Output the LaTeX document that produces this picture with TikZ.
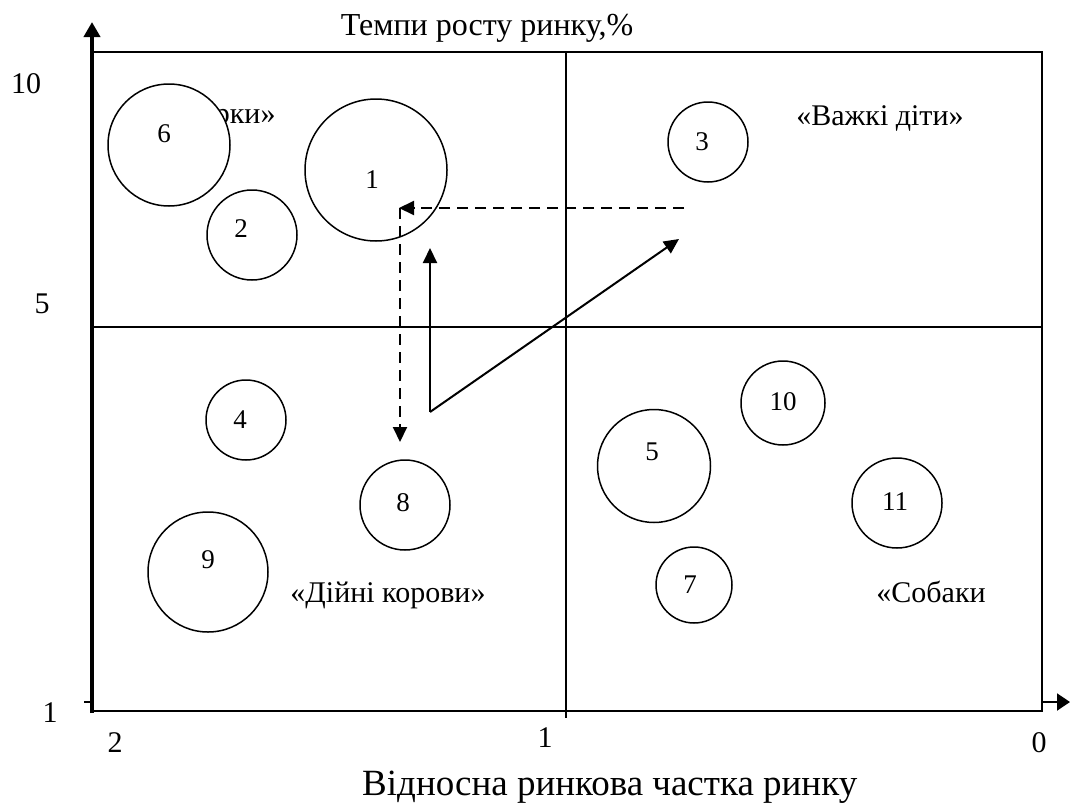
\documentclass[tikz,border=0pt]{standalone}
\usepackage{fontspec}
\setmainfont{Liberation Serif}
\usetikzlibrary{arrows.meta}
\begin{document}
\begin{tikzpicture}[x=1pt,y=-1pt,
  bub/.style={draw, circle, line width=1.5pt, inner sep=0pt, fill=white},
  num/.style={font=\fontsize{27}{32}\selectfont, inner sep=0pt, anchor=center},
  axnum/.style={font=\fontsize{30}{36}\selectfont, inner sep=0pt, anchor=base},
  qlab/.style={font=\fontsize{30}{36}\selectfont, inner sep=0pt, anchor=base},
  frame/.style={line width=2pt},
  midline/.style={line width=1.5pt},
  tip/.style={-{Triangle[length=15pt,width=14pt]}},
  dashline/.style={line width=2pt, dash pattern=on 11pt off 7pt, tip},
  solidarrow/.style={line width=2pt, tip}
]
\fill[white] (0,0) rectangle (1070,803);
\useasboundingbox (0,0) rectangle (1070,803);

% coordinates
\coordinate (ybot) at (92,713);
\coordinate (ytop) at (92,22);
\coordinate (tl) at (92,52);
\coordinate (tr) at (1042,52);
\coordinate (br) at (1042,711);
\coordinate (bl) at (92,711);
\coordinate (tick1) at (84,702);
\coordinate (tick2) at (92,702);
\coordinate (xs) at (1042,702);
\coordinate (xe) at (1070,702);
\coordinate (vt) at (566,52);
\coordinate (vb) at (566,718);
\coordinate (hl) at (92,327);
\coordinate (hr) at (1042,327);

% quadrant label partly hidden
\node[qlab] (qstars) at (226,123) {«Зірки»};

% frame and axes
\draw[frame] (tl) -- (tr) -- (br) -- (bl);
\draw[midline] (vt) -- (vb);
\draw[midline] (hl) -- (hr);
\draw[line width=4.5pt, -{Triangle[length=15pt,width=16pt]}] (ybot) -- (ytop);
\draw[line width=2.5pt] (tick1) -- (tick2);
\draw[line width=2pt, -{Triangle[length=13pt,width=17pt]}] (xs) -- (xe);

% axis labels
\node[font=\fontsize{32}{38}\selectfont, inner sep=0pt, anchor=base] (ytitle) at (487,35) {Темпи росту ринку,\%};
\node[font=\fontsize{37}{44}\selectfont, inner sep=0pt, anchor=base west] (xtitle) at (362,795) {Відносна ринкова частка ринку};
\node[axnum] (y10) at (26,93) {10};
\node[axnum] (y5) at (42,313) {5};
\node[axnum] (y1) at (50,722) {1};
\node[axnum] (x2) at (115,752) {2};
\node[axnum] (x1) at (545,747) {1};
\node[axnum] (x0) at (1039,752) {0};

% bubbles
\node[bub, minimum size=122pt] (c6) at (169,145) {};
\node[bub, minimum size=142pt, fill=none] (c1) at (376,170) {};
\node[bub, minimum size=90pt] (c2) at (252,235) {};
\node[bub, minimum size=80pt] (c3) at (708,142) {};
\node[bub, minimum size=80pt] (c4) at (246,420) {};
\node[bub, minimum size=90pt] (c8) at (405,505) {};
\node[bub, minimum size=120pt] (c9) at (208,572) {};
\node[bub, minimum size=113pt] (c5) at (654,466) {};
\node[bub, minimum size=84pt] (c10) at (783,403) {};
\node[bub, minimum size=90pt] (c11) at (897,503) {};
\node[bub, minimum size=76pt] (c7) at (694,585) {};

\node[num] (n6) at (164,134) {6};
\node[num] (n1) at (372,180) {1};
\node[num] (n2) at (241,229) {2};
\node[num] (n3) at (702,142) {3};
\node[num] (n4) at (240,420) {4};
\node[num] (n8) at (403,503) {8};
\node[num] (n9) at (208,560) {9};
\node[num] (n5) at (652,452) {5};
\node[num] (n10) at (783,402) {10};
\node[num] (n11) at (895,502) {11};
\node[num] (n7) at (690,585) {7};

% quadrant labels
\node[qlab] (qhard) at (880,125) {«Важкі діти»};
\node[qlab] (qcows) at (388,602) {«Дійні корови»};
\node[qlab] (qdogs) at (931,602) {«Собаки};

% arrows
\coordinate (d1) at (684,208);
\coordinate (d2) at (399,208);
\coordinate (d2b) at (400,208);
\coordinate (d3) at (400,442);
\coordinate (s0) at (430,412);
\coordinate (s1) at (430,248);
\coordinate (s2) at (679,239);
\draw[dashline] (d1) -- (d2);
\draw[dashline] (d2b) -- (d3);
\draw[solidarrow] (s0) -- (s1);
\draw[solidarrow] (s0) -- (s2);
\end{tikzpicture}
\end{document}
